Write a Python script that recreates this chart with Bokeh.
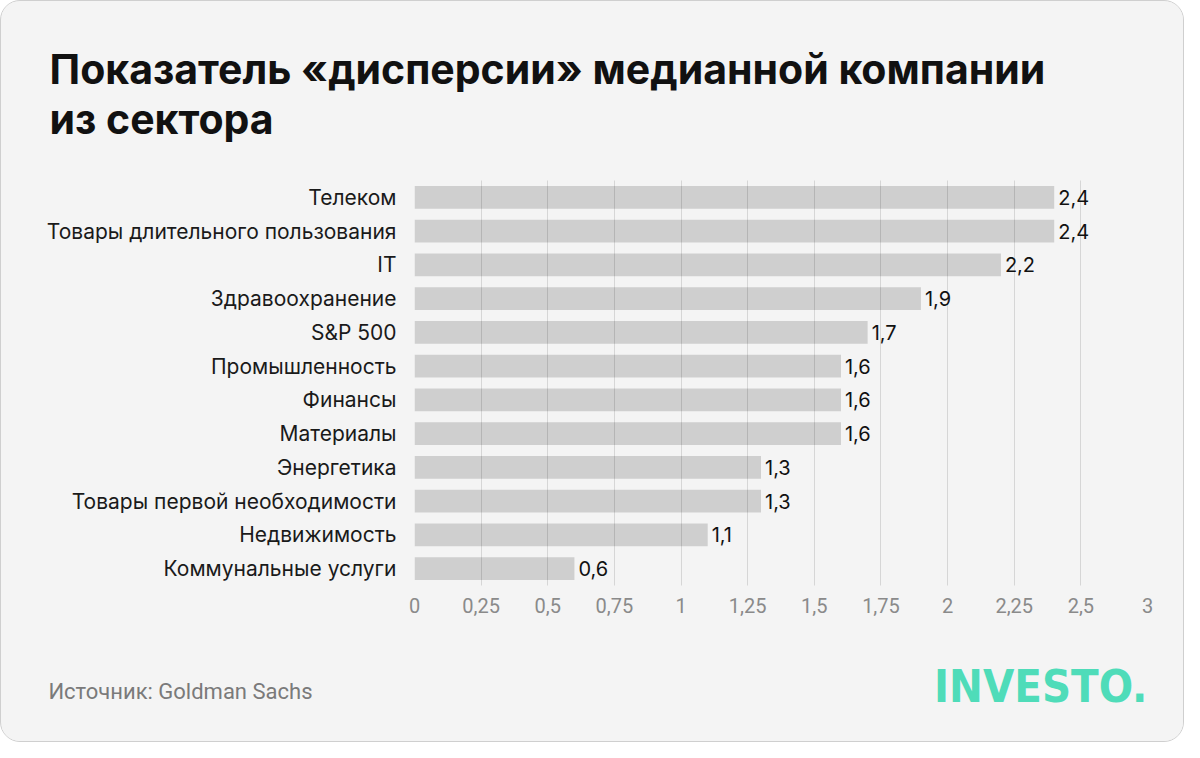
from bokeh.plotting import figure
from bokeh.layouts import column
from bokeh.models import ColumnDataSource, LabelSet, FixedTicker, FactorRange, Range1d, Title
from bokeh.core.properties import value
from bokeh.embed import file_html
from bokeh.resources import INLINE

categories = ["Телеком", "Товары длительного пользования", "IT", "Здравоохранение", "S&P 500",
              "Промышленность", "Финансы", "Материалы", "Энергетика",
              "Товары первой необходимости", "Недвижимость", "Коммунальные услуги"]
values = [2.4, 2.4, 2.2, 1.9, 1.7, 1.6, 1.6, 1.6, 1.3, 1.3, 1.1, 0.6]
ticks = [0, 0.25, 0.5, 0.75, 1, 1.25, 1.5, 1.75, 2, 2.25, 2.5, 2.75]
tick_labels = ["0", "0,25", "0,5", "0,75", "1", "1,25", "1,5", "1,75", "2", "2,25", "2,5", "3"]
title_lines = ["Показатель «дисперсии» медианной компании", "из сектора"]
source_text = "Источник: Goldman Sachs"
logo_text = "INVESTO."

def fmt(v):
    return ("%g" % v).replace(".", ",")

BG = "#f4f4f4"
W = 1182
H1, H2 = 640, 100
FL, FR, FT, FB = 413, 1146, 179, 584

src = ColumnDataSource(dict(cat=categories, val=values, lab=[fmt(v) for v in values]))

p = figure(width=W, height=H1, output_backend="svg", toolbar_location=None,
           y_range=FactorRange(*list(reversed(categories)), range_padding=0),
           x_range=Range1d(0, ticks[-1]),
           min_border_left=FL, min_border_right=W - FR, min_border_top=FT, min_border_bottom=H1 - FB,
           background_fill_color=BG, border_fill_color=BG, outline_line_color=None)

p.hbar(y="cat", right="val", left=0, height=0.67, source=src, fill_color="#cfcfcf", line_color=None)

p.ygrid.grid_line_color = None
p.xgrid.grid_line_color = "black"
p.xgrid.grid_line_alpha = 0.12
p.xgrid.level = "annotation"
p.xaxis.ticker = FixedTicker(ticks=ticks)
p.xaxis.major_label_overrides = dict(zip(ticks, tick_labels))
for ax in (p.xaxis[0], p.yaxis[0]):
    ax.axis_line_color = None
    ax.major_tick_line_color = None
    ax.minor_tick_line_color = None
p.xaxis.major_label_text_color = "#8a8a8a"
p.xaxis.major_label_text_font = "Roboto"
p.xaxis.major_label_text_font_size = "20px"
p.xaxis.major_label_standoff = 6
p.yaxis.major_label_text_color = "#1a1a1a"
p.yaxis.major_label_text_font = "Inter"
p.yaxis.major_label_text_font_size = "21px"
p.yaxis.major_label_standoff = 12

p.add_layout(LabelSet(x="val", y="cat", text="lab", source=src, x_offset=4,
                      text_baseline="middle", text_font=value("Inter"), text_font_size="20px",
                      text_color="#111111"))

p.add_layout(Title(text="\n".join(title_lines), align="left", offset=48 - FL, standoff=74,
                   text_font="Inter", text_font_style="bold", text_font_size="41px",
                   text_color="#111111", text_line_height=1.0), "above")

# footer: source as the single left label, logo as a text mark in the footer frame
SRC_Y = 50
foot = figure(width=W, height=H2, output_backend="svg", toolbar_location=None,
              x_range=Range1d(FL, FR), y_range=Range1d(H2, 0), x_axis_location=None,
              min_border_left=FL, min_border_right=W - FR, min_border_top=0, min_border_bottom=0,
              background_fill_color=BG, border_fill_color=BG, outline_line_color=None)
foot.grid.visible = False
fy = foot.yaxis[0]
fy.ticker = FixedTicker(ticks=[SRC_Y])
fy.major_label_overrides = {SRC_Y: source_text}
fy.axis_line_color = None
fy.major_tick_line_color = None
fy.minor_tick_line_color = None
fy.major_label_text_font = "Roboto"
fy.major_label_text_font_size = "22px"
fy.major_label_text_color = "#7a7a7a"
fy.major_label_standoff = 96

foot.text(x=[FR], y=[45], text=[logo_text],
          text_font=value("DejaVu Sans Condensed, Roboto"), text_font_style="bold",
          text_font_size="45px", text_color="#4fdcb9",
          text_baseline="middle", text_align="right")

layout = column(p, foot, spacing=0,
                styles={"border-radius": "20px", "border": "1px solid #cfcfcf",
                        "overflow": "hidden", "background-color": BG})

out = file_html(layout, INLINE)
open("out.html", "w").write(out)
